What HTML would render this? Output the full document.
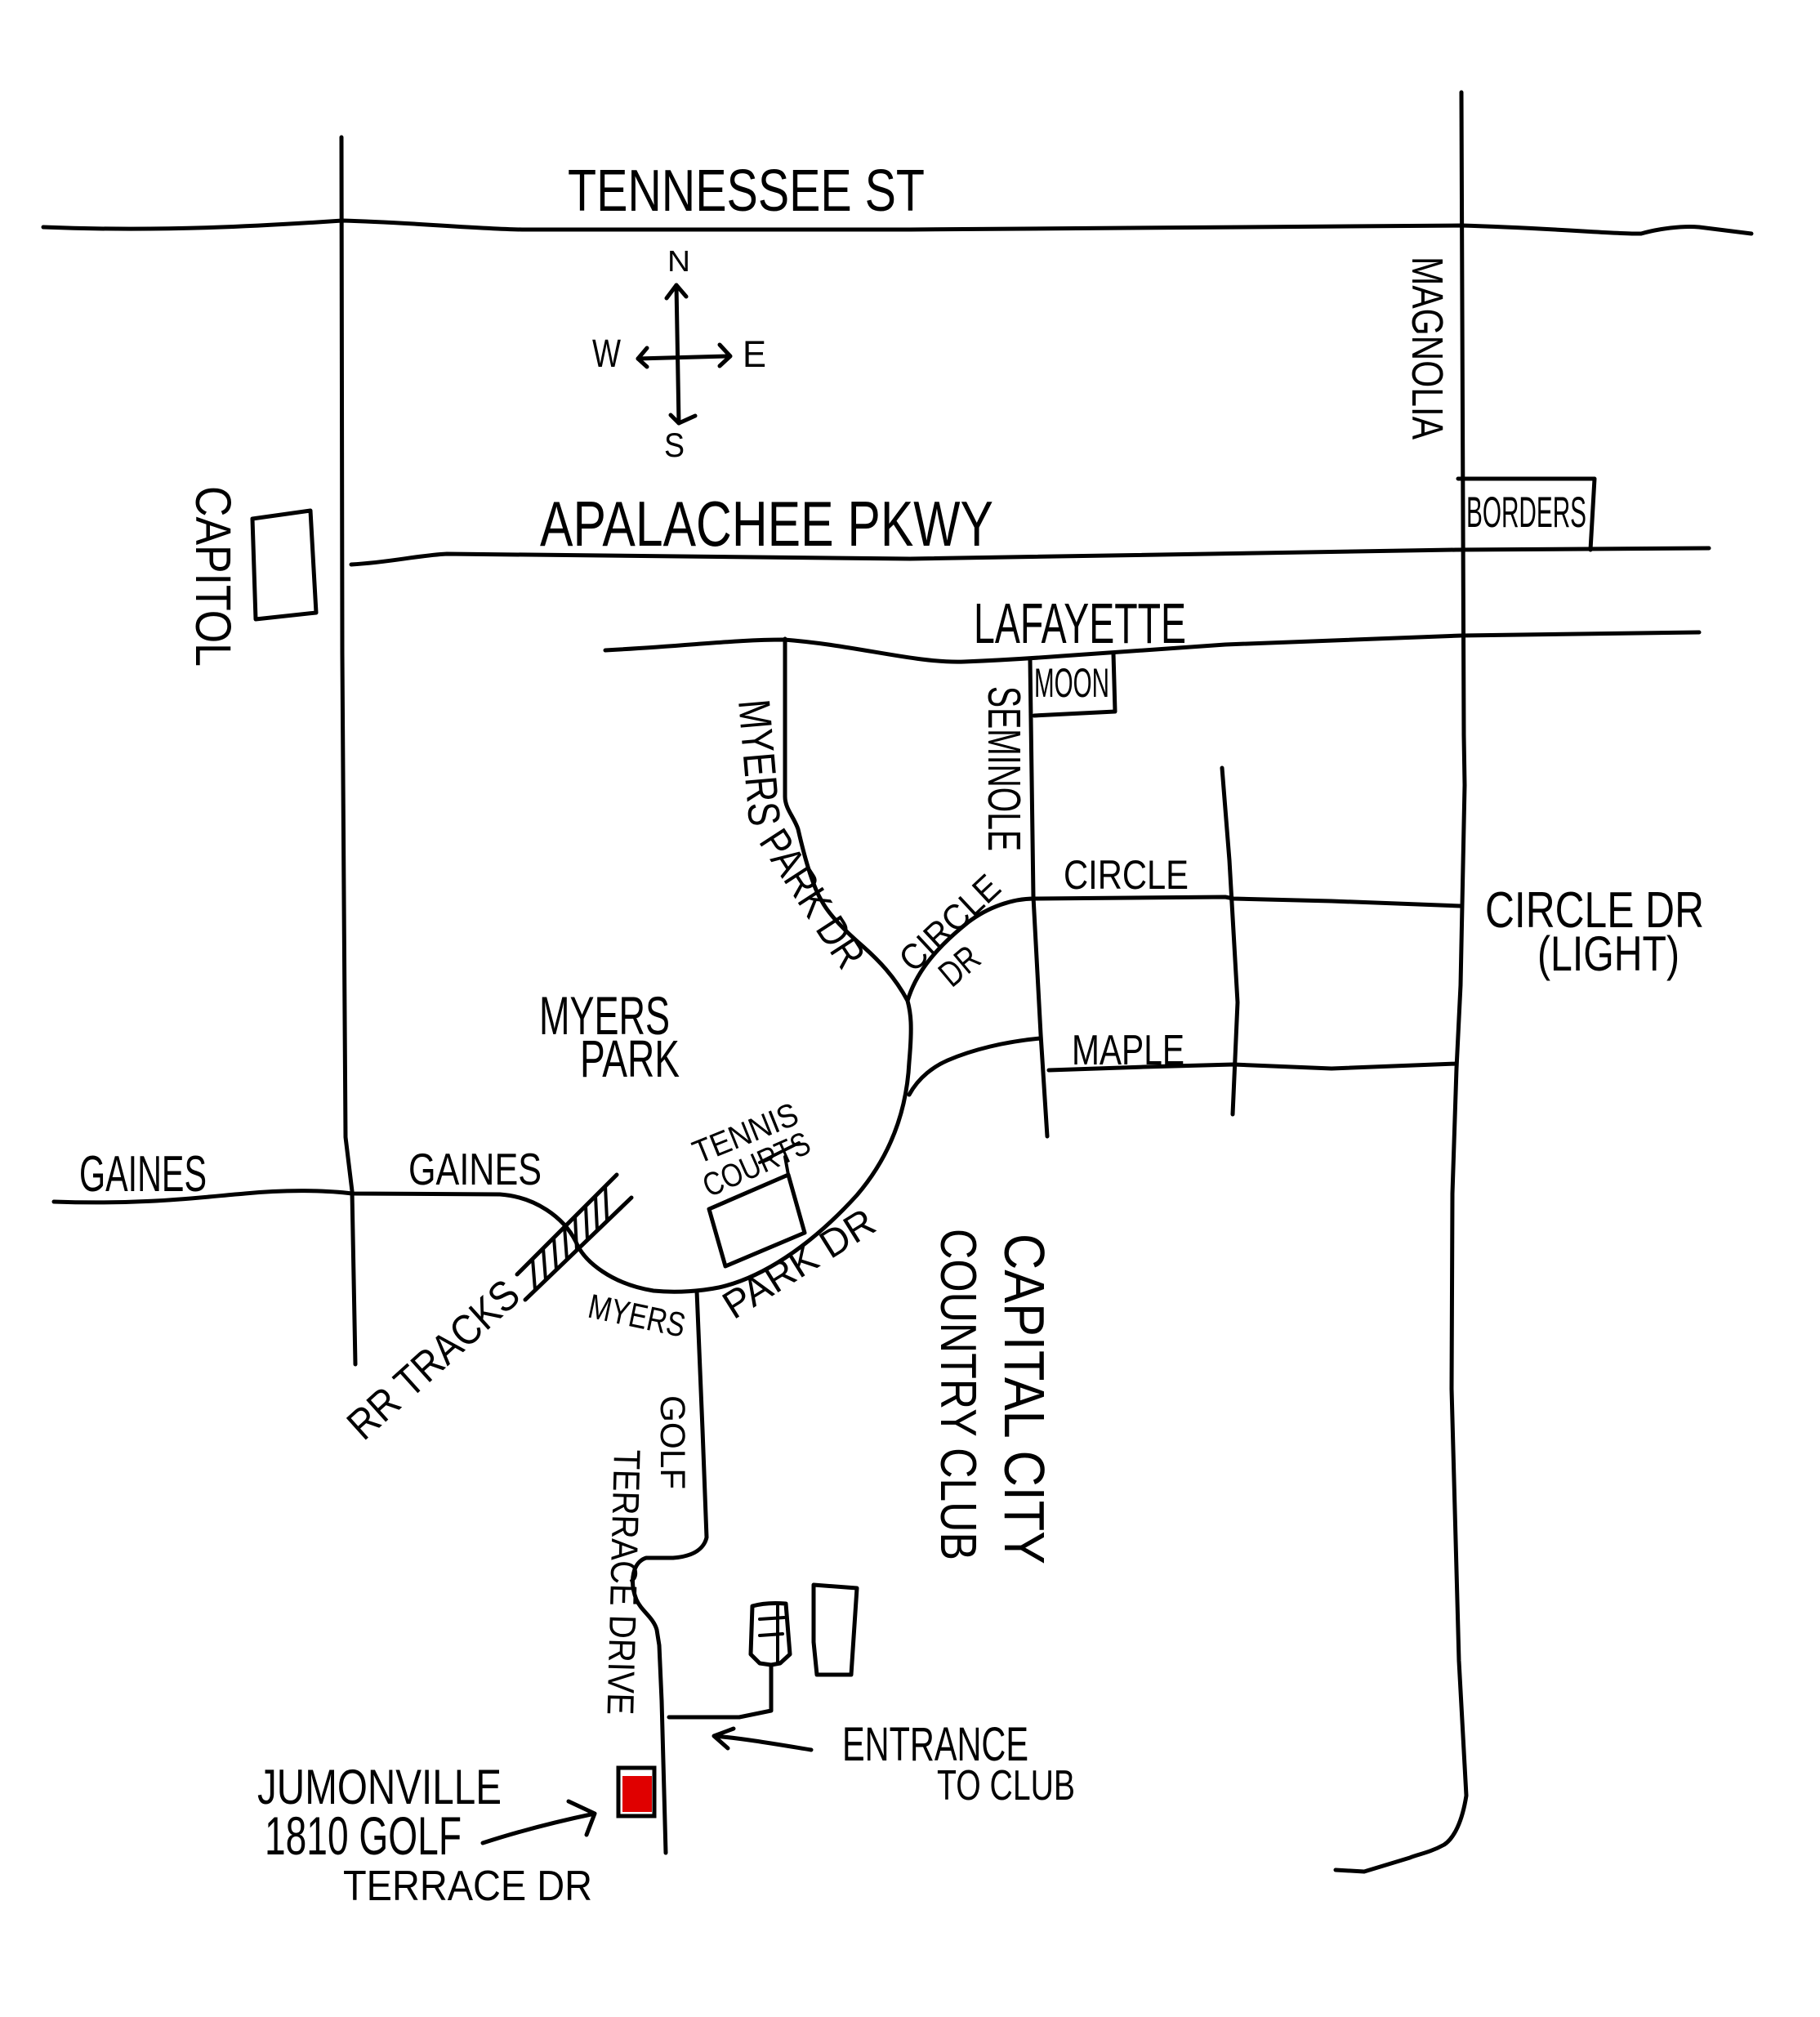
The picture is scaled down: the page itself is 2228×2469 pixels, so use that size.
<!DOCTYPE html>
<html><head><meta charset="utf-8"><style>
html,body{margin:0;padding:0;background:#fff;}
svg{display:block;}
text{font-family:"Liberation Sans",sans-serif;fill:#000;}
</style></head><body>
<svg width="2228" height="2469" viewBox="0 0 2228 2469" xmlns="http://www.w3.org/2000/svg">
<rect width="2228" height="2469" fill="#fff"/>
<g fill="none" stroke="#000" stroke-width="5" stroke-linecap="round" stroke-linejoin="round">
<!-- Tennessee St -->
<path d="M53,278 C200,284 330,276 419,270 C500,272 580,280 639,281 L1114,281 L1789,276 C1900,279 1980,287 2009,286 C2030,280 2060,276 2080,278 L2144,286"/>
<!-- left vertical -->
<path d="M418,168 L419,800 L423,1392 L431,1458 L435,1670"/>
<!-- Apalachee -->
<path d="M430,691 C480,688 510,680 547,678 L1114,684 L1782,673 L2092,671"/>
<!-- Magnolia -->
<path d="M1789,113 L1792,900 L1793,961 L1788,1206 L1783,1308 L1778,1461 L1777,1700 L1786,2033 L1795,2198 C1790,2230 1780,2250 1768,2258 C1750,2268 1735,2270 1726,2274 L1670,2291 L1635,2289"/>
<!-- Lafayette -->
<path d="M741,796 C850,790 900,783 960,783 C1050,790 1120,812 1180,810 C1230,808 1260,806 1300,803 L1500,789 L1789,778 L2080,774"/>
<!-- Gaines + Myers Park loop -->
<path d="M66,1471 C180,1475 250,1465 300,1461 C350,1456 400,1457 431,1461 L612,1462 C655,1465 690,1490 705,1520 C715,1545 750,1572 800,1580 C830,1583 860,1580 880,1576 C930,1565 990,1528 1049,1463 C1090,1415 1110,1360 1113,1300 C1117,1255 1115,1240 1111,1225 C1095,1195 1075,1175 1057,1159 C1035,1140 1015,1120 1006,1103 C995,1085 985,1050 977,1015 C972,1000 961,990 961,975 L961,782"/>
<!-- Circle Dr -->
<path d="M1111,1225 C1120,1195 1140,1165 1185,1129 C1210,1110 1240,1100 1266,1100 L1500,1098 L1510,1100 L1630,1103 L1788,1109"/>
<!-- Maple -->
<path d="M1113,1340 C1125,1318 1144,1305 1160,1298 C1190,1285 1230,1275 1274,1271"/>
<path d="M1284,1310 L1400,1306 L1510,1303 L1630,1308 L1783,1302"/>
<!-- Seminole -->
<path d="M1261,807 L1265,1098 L1274,1266 L1282,1391"/>
<!-- east short vertical -->
<path d="M1496,940 L1505,1053 L1515,1227 L1509,1364"/>
<!-- Golf Terrace -->
<path d="M853,1580 L860,1750 L865,1882 C862,1895 850,1905 824,1907 L791,1907 C775,1912 770,1935 779,1958 C785,1972 800,1980 804,1995 L807,2014 L810,2082 L815,2268"/>
<!-- entrance road -->
<path d="M819,2102 L905,2102 L944,2094 L944,2038"/>
<!-- building 1 -->
<path d="M921,1966 C935,1962 950,1962 962,1963 L967,2025 L955,2036 L944,2038 L930,2036 L919,2025 Z"/>
<path d="M952,1966 L952,2037 M930,1982 L960,1980 M930,2002 L958,2000" stroke-width="4"/>
<!-- building 2 -->
<path d="M996,1940 L1049,1944 L1042,2050 L1000,2050 L996,2010 Z"/>
<!-- RR tracks -->
<path d="M633,1560 L755,1438 M643,1591 L773,1466"/>
<path d="M652,1541 L655,1579 M665,1528 L668,1567 M678,1515 L681,1554 M691,1502 L694,1542 M704,1489 L706,1530 M717,1476 L719,1517 M729,1464 L731,1505 M741,1452 L743,1493" stroke-width="4"/>
<!-- tennis court -->
<path d="M868,1480 L965,1438 L985,1509 L888,1550 Z"/>
<path d="M965,1438 L961,1416 M930,1423 L978,1399" stroke-width="4"/>
<!-- capitol box -->
<path d="M309,635 L380,625 L387,750 L313,758 Z"/>
<!-- borders box -->
<path d="M1785,586 L1952,586 L1947,673"/>
<!-- moon box -->
<path d="M1363,800 L1365,871 L1266,876"/>
<!-- compass -->
<path d="M828,349 L831,518 M781,439 L892,436"/>
<path d="M816,365 L828,349 L840,363 M821,508 L831,518 L851,509 M792,426 L781,439 L792,449 M881,422 L894,436 L881,448"/>
<!-- house arrow -->
<path d="M591,2256 C640,2240 690,2228 728,2220 M696,2205 L728,2220 L718,2246"/>
<!-- entrance arrow -->
<path d="M993,2142 C950,2135 910,2128 874,2125 M898,2116 L874,2125 L891,2140"/>
</g>
<!-- red house -->
<rect x="757" y="2164" width="44" height="59" fill="#fff" stroke="#000" stroke-width="5"/>
<rect x="762" y="2174" width="36" height="44" fill="#e00000"/>

<!-- labels -->
<text x="695" y="258" font-size="72" textLength="437" lengthAdjust="spacingAndGlyphs">TENNESSEE ST</text>
<text x="661" y="668" font-size="78" textLength="555" lengthAdjust="spacingAndGlyphs">APALACHEE PKWY</text>
<text x="1192" y="787" font-size="70" textLength="260" lengthAdjust="spacingAndGlyphs">LAFAYETTE</text>
<text transform="translate(1729,314) rotate(90)" font-size="54" textLength="224" lengthAdjust="spacingAndGlyphs">MAGNOLIA</text>
<text transform="translate(240,595) rotate(90)" font-size="61" textLength="221" lengthAdjust="spacingAndGlyphs">CAPITOL</text>
<text transform="translate(1210,840) rotate(90)" font-size="57" textLength="202" lengthAdjust="spacingAndGlyphs">SEMINOLE</text>
<text transform="translate(904,858) rotate(85)" font-size="55" textLength="155" lengthAdjust="spacingAndGlyphs">MYERS</text>
<text transform="translate(928,1030) rotate(57)" font-size="52" textLength="190" lengthAdjust="spacingAndGlyphs">PARK DR</text>
<text transform="translate(1118,1192) rotate(-43)" font-size="44" textLength="150" lengthAdjust="spacingAndGlyphs">CIRCLE</text>
<text transform="translate(1165,1210) rotate(-40)" font-size="44" textLength="50" lengthAdjust="spacingAndGlyphs">DR</text>
<text x="1302" y="1088" font-size="50" textLength="153" lengthAdjust="spacingAndGlyphs">CIRCLE</text>
<text x="1312" y="1303" font-size="52" textLength="138" lengthAdjust="spacingAndGlyphs">MAPLE</text>
<text x="1818" y="1135" font-size="62" textLength="268" lengthAdjust="spacingAndGlyphs">CIRCLE DR</text>
<text x="1882" y="1188" font-size="60" textLength="174" lengthAdjust="spacingAndGlyphs">(LIGHT)</text>
<text x="1266" y="853" font-size="50" textLength="92" lengthAdjust="spacingAndGlyphs">MOON</text>
<text x="1795" y="645" font-size="53" textLength="147" lengthAdjust="spacingAndGlyphs">BORDERS</text>
<text x="660" y="1266" font-size="66" textLength="160" lengthAdjust="spacingAndGlyphs">MYERS</text>
<text x="710" y="1318" font-size="64" textLength="122" lengthAdjust="spacingAndGlyphs">PARK</text>
<text x="97" y="1458" font-size="62" textLength="156" lengthAdjust="spacingAndGlyphs">GAINES</text>
<text x="500" y="1450" font-size="55" textLength="163" lengthAdjust="spacingAndGlyphs">GAINES</text>
<text transform="translate(445,1765) rotate(-42)" font-size="52" textLength="262" lengthAdjust="spacingAndGlyphs">RR TRACKS</text>
<text transform="translate(855,1425) rotate(-22)" font-size="40" textLength="135" lengthAdjust="spacingAndGlyphs">TENNIS</text>
<text transform="translate(868,1466) rotate(-24)" font-size="40" textLength="139" lengthAdjust="spacingAndGlyphs">COURTS</text>
<text transform="translate(718,1612) rotate(12)" font-size="42" textLength="120" lengthAdjust="spacingAndGlyphs">MYERS</text>
<text transform="translate(898,1616) rotate(-32)" font-size="48" textLength="209" lengthAdjust="spacingAndGlyphs">PARK DR</text>
<text transform="translate(809,1708) rotate(90)" font-size="43" textLength="115" lengthAdjust="spacingAndGlyphs">GOLF</text>
<text transform="translate(752,1774) rotate(91.5)" font-size="46" textLength="325" lengthAdjust="spacingAndGlyphs">TERRACE DRIVE</text>
<text transform="translate(1230,1510) rotate(90)" font-size="70" textLength="405" lengthAdjust="spacingAndGlyphs">CAPITAL CITY</text>
<text transform="translate(1152,1504) rotate(90)" font-size="62" textLength="406" lengthAdjust="spacingAndGlyphs">COUNTRY CLUB</text>
<text x="1031" y="2155" font-size="58" textLength="228" lengthAdjust="spacingAndGlyphs">ENTRANCE</text>
<text x="1147" y="2203" font-size="52" textLength="169" lengthAdjust="spacingAndGlyphs">TO CLUB</text>
<text x="315" y="2208" font-size="60" textLength="299" lengthAdjust="spacingAndGlyphs">JUMONVILLE</text>
<text x="324" y="2270" font-size="66" textLength="241" lengthAdjust="spacingAndGlyphs">1810 GOLF</text>
<text x="420" y="2326" font-size="52" textLength="305" lengthAdjust="spacingAndGlyphs">TERRACE DR</text>
<text x="817" y="332" font-size="36" textLength="28" lengthAdjust="spacingAndGlyphs">N</text>
<text x="725" y="449" font-size="48" textLength="35" lengthAdjust="spacingAndGlyphs">W</text>
<text x="909" y="449" font-size="45" textLength="29" lengthAdjust="spacingAndGlyphs">E</text>
<text x="813" y="559" font-size="42" textLength="25" lengthAdjust="spacingAndGlyphs">S</text>
</svg>
</body></html>
